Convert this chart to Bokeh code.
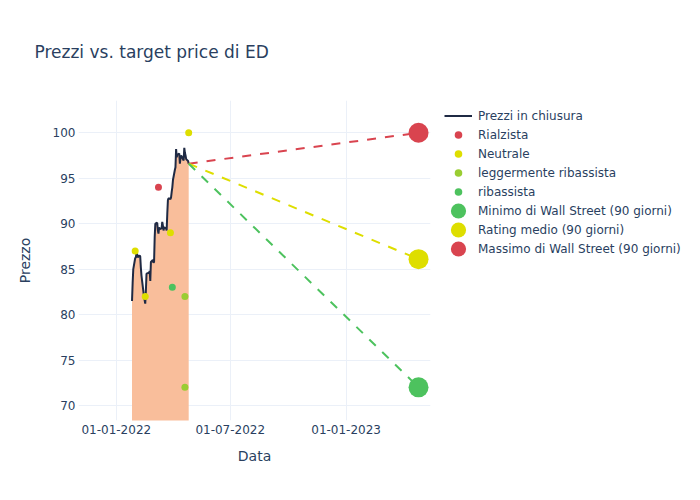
import pandas as pd
from bokeh.plotting import figure
from bokeh.models import (Legend, LegendItem, FixedTicker, DatetimeTickFormatter,
                          Range1d, ColumnDataSource)
from bokeh.embed import file_html
from bokeh.resources import INLINE

# ---------------- data ----------------
price_dates = [
    "2022-01-26", "2022-01-27", "2022-01-28", "2022-01-31",
    "2022-02-01", "2022-02-02", "2022-02-03", "2022-02-04", "2022-02-07",
    "2022-02-08", "2022-02-09", "2022-02-10", "2022-02-11", "2022-02-14",
    "2022-02-15", "2022-02-16", "2022-02-17", "2022-02-18", "2022-02-22",
    "2022-02-23", "2022-02-24", "2022-02-25", "2022-02-28",
    "2022-03-01", "2022-03-02", "2022-03-03", "2022-03-04", "2022-03-07",
    "2022-03-08", "2022-03-09", "2022-03-10", "2022-03-11", "2022-03-14",
    "2022-03-15", "2022-03-16", "2022-03-17", "2022-03-18", "2022-03-21",
    "2022-03-22", "2022-03-23", "2022-03-24", "2022-03-25", "2022-03-28",
    "2022-03-29", "2022-03-30", "2022-03-31",
    "2022-04-01", "2022-04-04", "2022-04-05", "2022-04-06", "2022-04-07",
    "2022-04-08", "2022-04-11", "2022-04-12", "2022-04-13", "2022-04-14",
    "2022-04-18", "2022-04-19", "2022-04-20", "2022-04-21", "2022-04-22",
    "2022-04-25", "2022-04-26",
]
price_values = [
    81.5, 83.5, 85.0, 86.2,
    86.3, 86.7, 86.7, 86.3, 86.5,
    86.4, 85.2, 84.3, 83.7, 82.0,
    81.6, 81.2, 82.6, 84.5, 84.6,
    84.8, 83.7, 85.8, 86.0,
    85.7, 85.8, 88.5, 90.0, 90.1,
    89.3, 88.9, 89.6, 89.4, 89.5,
    90.2, 89.8, 89.25, 89.6, 89.5,
    89.25, 91.1, 92.6, 92.8, 92.7,
    92.9, 93.5, 94.0,
    94.8, 95.9, 96.2, 98.2, 97.3,
    97.6, 97.7, 96.6, 97.2, 97.5,
    96.95, 98.35, 97.8, 97.5, 97.1,
    96.9, 96.6,
]

bull_dates = ["2022-03-09"]
bull_values = [94]
neutral_dates = ["2022-01-31", "2022-02-16", "2022-03-28", "2022-04-26"]
neutral_values = [87, 82, 89, 100]
slight_bear_dates = ["2022-04-20", "2022-04-20"]
slight_bear_values = [82, 72]
bear_dates = ["2022-03-31"]
bear_values = [83]

target_date = "2023-04-26"
target_min = 72.0
target_avg = 86.1
target_max = 100.0

x_tick_dates = ["2022-01-01", "2022-07-01", "2023-01-01"]
y_ticks = [70, 75, 80, 85, 90, 95, 100]
x_limits = ["2021-11-02", "2023-05-15"]
y_limits = [68.35, 103.55]

# ---------------- styles ----------------
FONT = "DejaVu Sans"
TXT = "#2a3f5f"
GRID = "#EBF0F8"
C_LINE = "#1f2a44"
C_FILL = "#F9BE9B"
C_RED = "#D9444F"
C_YEL = "#DEDE00"
C_LGREEN = "#9ACD32"
C_GREEN = "#4DC25E"


def ms(d):
    return pd.Timestamp(d).timestamp() * 1000.0


def dts(lst):
    return pd.to_datetime(lst)


p = figure(x_axis_type="datetime", output_backend="svg", toolbar_location=None,
           frame_width=352, frame_height=320,
           min_border_left=78, min_border_top=100, min_border_right=262, min_border_bottom=64,
           x_range=Range1d(ms(x_limits[0]), ms(x_limits[1])),
           y_range=Range1d(y_limits[0], y_limits[1]))
p.outline_line_color = None
p.background_fill_color = "white"
p.border_fill_color = "white"

p.title.text = "Prezzi vs. target price di ED"
p.title.text_font = FONT
p.title.text_font_size = "17px"
p.title.text_font_style = "normal"
p.title.text_color = TXT
p.title.align = "left"
p.title.offset = -44
p.title.standoff = 78

# axes
for ax in (p.xaxis[0], p.yaxis[0]):
    ax.axis_line_color = None
    ax.major_tick_line_color = None
    ax.minor_tick_line_color = None
    ax.major_tick_out = 0
    ax.major_tick_in = 0
    ax.minor_tick_out = 0
    ax.minor_tick_in = 0
    ax.major_label_text_font = FONT
    ax.major_label_text_font_size = "12px"
    ax.major_label_text_color = TXT
    ax.axis_label_text_font = FONT
    ax.axis_label_text_font_size = "14px"
    ax.axis_label_text_font_style = "normal"
    ax.axis_label_text_color = TXT

p.xaxis.axis_label = "Data"
p.yaxis.axis_label = "Prezzo"
p.xaxis.ticker = FixedTicker(ticks=[ms(d) for d in x_tick_dates])
p.xaxis.formatter = DatetimeTickFormatter(days="%d-%m-%Y", months="%d-%m-%Y", years="%d-%m-%Y")
p.yaxis.ticker = FixedTicker(ticks=y_ticks)
p.xaxis.major_label_standoff = 4
p.xaxis.axis_label_standoff = 11
p.yaxis.major_label_standoff = 3
p.yaxis.axis_label_standoff = 17

p.xgrid.grid_line_color = GRID
p.ygrid.grid_line_color = GRID
p.xgrid.grid_line_width = 1
p.ygrid.grid_line_width = 1

# price area + line
src = ColumnDataSource(dict(x=dts(price_dates), y=price_values, base=[0] * len(price_values)))
p.varea(x="x", y1="base", y2="y", source=src, fill_color=C_FILL, fill_alpha=1.0)
r_line = p.line(x="x", y="y", source=src, line_color=C_LINE, line_width=2)

# dashed target lines
last_d = price_dates[-1]
last_v = price_values[-1]
for tv, col in ((target_max, C_RED), (target_avg, C_YEL), (target_min, C_GREEN)):
    p.line(x=dts([last_d, target_date]), y=[last_v, tv], line_color=col,
           line_width=2, line_dash="9 9")

# analyst ratings
r_bull = p.scatter(x=dts(bull_dates), y=bull_values, size=7, fill_color=C_RED, line_color=None)
r_neu = p.scatter(x=dts(neutral_dates), y=neutral_values, size=7, fill_color=C_YEL, line_color=None)
r_sbear = p.scatter(x=dts(slight_bear_dates), y=slight_bear_values, size=7, fill_color=C_LGREEN, line_color=None)
r_bear = p.scatter(x=dts(bear_dates), y=bear_values, size=7, fill_color=C_GREEN, line_color=None)

# targets (screen-sized circles drawn as ellipses)
big = dict(width=20, height=20, width_units="screen", height_units="screen", line_color=None)
r_min = p.ellipse(x=dts([target_date]), y=[target_min], fill_color=C_GREEN, **big)
r_avg = p.ellipse(x=dts([target_date]), y=[target_avg], fill_color=C_YEL, **big)
r_max = p.ellipse(x=dts([target_date]), y=[target_max], fill_color=C_RED, **big)

legend = Legend(items=[
    LegendItem(label="Prezzi in chiusura", renderers=[r_line]),
    LegendItem(label="Rialzista", renderers=[r_bull]),
    LegendItem(label="Neutrale", renderers=[r_neu]),
    LegendItem(label="leggermente ribassista", renderers=[r_sbear]),
    LegendItem(label="ribassista", renderers=[r_bear]),
    LegendItem(label="Minimo di Wall Street (90 giorni)", renderers=[r_min]),
    LegendItem(label="Rating medio (90 giorni)", renderers=[r_avg]),
    LegendItem(label="Massimo di Wall Street (90 giorni)", renderers=[r_max]),
], location=(9, 157), orientation="vertical", glyph_width=28, glyph_height=19,
    label_height=19, label_standoff=6, spacing=0, padding=5, margin=0,
    border_line_alpha=0, background_fill_alpha=0, label_text_font=FONT,
    label_text_font_size="12px", label_text_color=TXT)
p.add_layout(legend, "right")

open("out.html", "w").write(file_html(p, INLINE))
